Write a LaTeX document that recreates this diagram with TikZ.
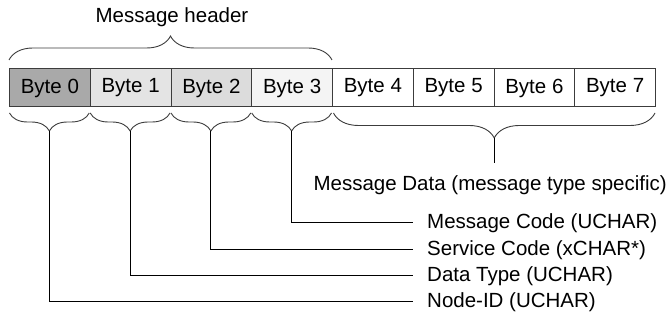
\documentclass[tikz,border=0pt]{standalone}
\usepackage{fontspec}
\setmainfont{Liberation Sans}
\usetikzlibrary{decorations.pathreplacing}
\definecolor{byteA}{RGB}{169,169,169}
\definecolor{byteB}{RGB}{228,228,228}
\definecolor{byteC}{RGB}{220,220,220}
\definecolor{byteD}{RGB}{244,244,244}
\definecolor{edge}{RGB}{60,60,60}

\begin{document}
\begin{tikzpicture}[x=1pt,y=-1pt,font=\fontsize{20.5}{24}\selectfont,
  byte/.style={draw=edge,line width=1pt,minimum width=80.75pt,minimum height=38pt,inner sep=0pt,anchor=west},
  upbrace/.style={decorate,decoration={brace,amplitude=#1},draw=edge,line width=0.9pt},
  downbrace/.style={decorate,decoration={brace,mirror,amplitude=#1},draw=edge,line width=0.9pt},
  link/.style={draw=black,line width=1pt},
  lbl/.style={anchor=west,inner xsep=14pt,inner ysep=0pt}]
\useasboundingbox (0,0) rectangle (670,320);
% byte row
\foreach \i/\c in {0/byteA,1/byteB,2/byteC,3/byteD,4/white,5/white,6/white,7/white}
  {\node[byte,fill=\c] (b\i) at (9+80.75*\i,88) {Byte \i};}
% header brace
\draw[upbrace=24] (9,60) -- (332,60);
\node (hdr) at (172,17) {Message header};
% field braces below bytes 0..3
\foreach \i in {0,...,3}
  {\draw[downbrace=18] (9.5+80.75*\i,113) -- (8.5+80.75*\i+80.75,113);
   \coordinate (t\i) at (9+80.75*\i+40.4,131);}
% data brace
\draw[downbrace=25] (333.5,113) -- (655,113);
\coordinate (t4) at (494,138);
\coordinate (d4) at (494,163);
\draw[link] (t4) -- (d4);
\node[anchor=east,inner sep=0pt] (mdata) at (667,185) {Message Data (message type specific)};
% field labels
\foreach \i/\y/\t in {3/223/{Message Code (UCHAR)},2/250/{Service Code (xCHAR*)},1/276/{Data Type (UCHAR)},0/302/{Node-ID (UCHAR)}}
  {\node[lbl] (l\i) at (413,\y) {\t};
   \draw[link] (t\i) |- (l\i.west);}
\end{tikzpicture}
\end{document}
